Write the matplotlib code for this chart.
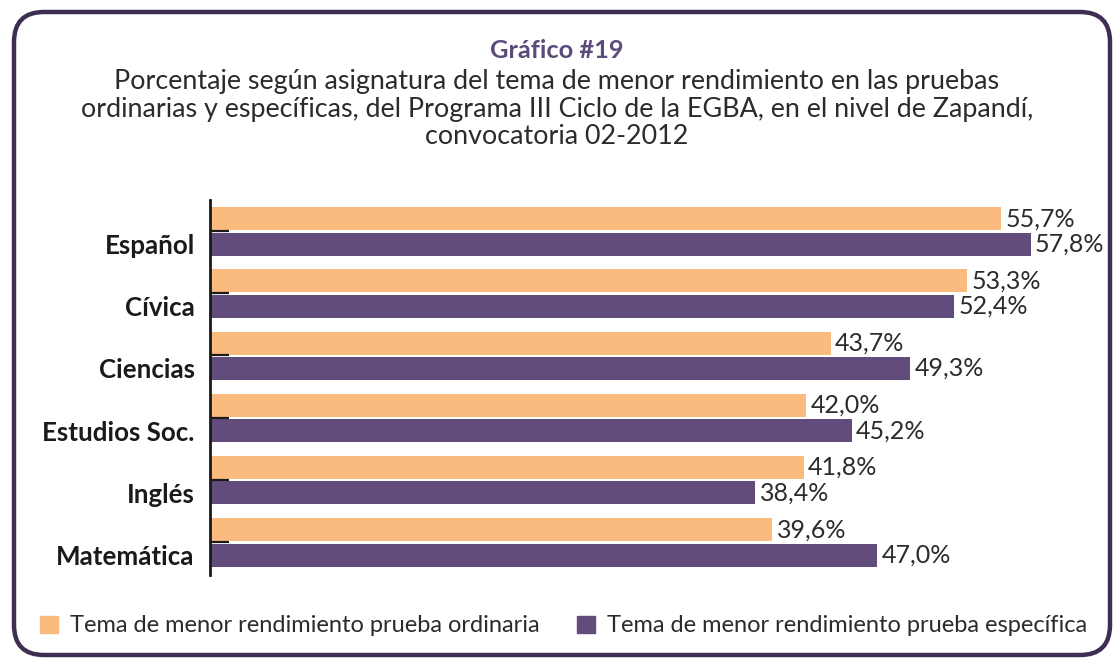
import matplotlib.pyplot as plt
from matplotlib.patches import FancyBboxPatch, Patch
from matplotlib.transforms import ScaledTranslation
import numpy as np

categorias = ['Español', 'Cívica', 'Ciencias', 'Estudios Soc.', 'Inglés', 'Matemática']
ordinaria = [55.7, 53.3, 43.7, 42.0, 41.8, 39.6]
especifica = [57.8, 52.4, 49.3, 45.2, 38.4, 47.0]

naranja = '#FBBA7E'
morado = '#614C7C'
marco = '#3D2E52'
texto = '#2b2b2b'

plt.rcParams['font.family'] = ['Lato', 'DejaVu Sans']

fig = plt.figure(figsize=(11.14, 6.58), dpi=100)

# marco redondeado
caja = FancyBboxPatch((0.14 + 0.3, 0.03 + 0.3), 10.96 - 0.6, 6.43 - 0.6,
                      boxstyle='round,pad=0.3', transform=fig.dpi_scale_trans,
                      facecolor='none', edgecolor=marco, linewidth=3.2, zorder=-1)
fig.patches.append(caja)

fig.text(0.5, 1 - 50 / 658, 'Gráfico #19', ha='center', va='center',
         fontsize=18.3, fontweight='bold', color='#5B4A7A')
subtitulo = ['Porcentaje según asignatura del tema de menor rendimiento en las pruebas',
             'ordinarias y específicas, del Programa III Ciclo de la EGBA, en el nivel de Zapandí,',
             'convocatoria 02-2012']
for k, linea in enumerate(subtitulo):
    fig.text(0.5, 1 - (82 + 27 * k) / 658, linea, ha='center', va='center',
             fontsize=19.4, color=texto)

ax = fig.add_axes([210 / 1114, 1 - 575 / 658, 880 / 1114, 375 / 658])
y = np.arange(len(categorias))
h = 0.37
ax.barh(y - 0.2, ordinaria, height=h, color=naranja)
ax.barh(y + 0.21, especifica, height=h, color=morado)

for i in range(len(categorias)):
    ax.text(ordinaria[i] + 0.3, y[i] - 0.2, f'{ordinaria[i]:.1f}%'.replace('.', ','),
            va='center', ha='left', fontsize=18, color=texto)
    ax.text(especifica[i] + 0.3, y[i] + 0.21, f'{especifica[i]:.1f}%'.replace('.', ','),
            va='center', ha='left', fontsize=18, color=texto)

ax.set_xlim(0, 880 / 14.2)
ax.set_ylim(len(categorias) - 0.47, -0.5)
ax.set_yticks(y)
ax.set_yticklabels(categorias, fontsize=18.6, fontweight='bold', color='#1a1a1a')
ax.tick_params(axis='y', direction='in', length=14, width=1.6, color='#1a1a1a', pad=11)
# etiquetas alineadas con la barra morada
desplazar = ScaledTranslation(0, -0.13, fig.dpi_scale_trans)
for etiqueta in ax.get_yticklabels():
    etiqueta.set_transform(etiqueta.get_transform() + desplazar)
ax.set_xticks([])
for s in ['top', 'right', 'bottom']:
    ax.spines[s].set_visible(False)
ax.spines['left'].set_linewidth(2)
ax.spines['left'].set_color('#1a1a1a')
ax.set_facecolor('none')

handles = [Patch(color=naranja), Patch(color=morado)]
fig.legend(handles, ['Tema de menor rendimiento prueba ordinaria',
                     'Tema de menor rendimiento prueba específica'],
           loc='center', bbox_to_anchor=(0.506, 1 - 626 / 658), ncol=2, frameon=False,
           fontsize=17, handlelength=0.75, handleheight=0.75, handletextpad=0.5,
           columnspacing=1.6, labelcolor=texto)

fig.savefig('out.png', dpi=100)
